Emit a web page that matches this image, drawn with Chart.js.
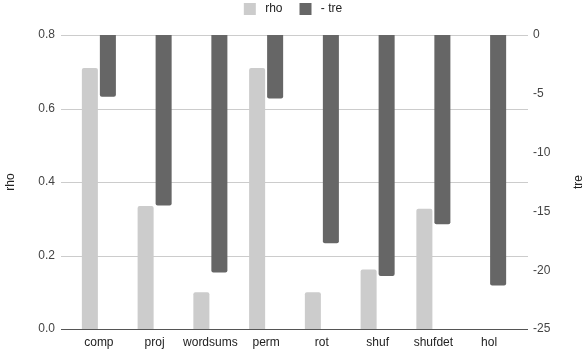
<!DOCTYPE html>
<html>
<head>
<meta charset="utf-8">
<script src="https://cdn.jsdelivr.net/npm/chart.js@4"></script>
<style>
  html, body { margin: 0; padding: 0; background: #fff; }
  #wrap { width: 586px; height: 350px; }
</style>
</head>
<body>
<div id="wrap"><canvas id="chart" width="586" height="350"></canvas></div>
<script>
// values
let categories = ['comp', 'proj', 'wordsums', 'perm', 'rot', 'shuf', 'shufdet', 'hol'];
let rhoValues = [0.71, 0.335, 0.1, 0.71, 0.1, 0.162, 0.327, 0];
let treValues = [-5.25, -14.5, -20.2, -5.4, -17.7, -20.5, -16.1, -21.3];
let rhoTicks = [0, 0.2, 0.4, 0.6, 0.8];
let treTicks = [0, -5, -10, -15, -20, -25];

const fontName = '"Liberation Sans", Arial, sans-serif';

// grid lines reach a bit past the bars on both sides, like the original
const gridPlugin = {
    id: 'gridLines',
    beforeLayout(chart) {
        // legend box takes a fixed 35px at the top
        const lg = chart.legend;
        if (lg && !lg._fixed) {
            const fit = lg.fit;
            lg.fit = function () { fit.call(this); this.height = 35; };
            lg._fixed = true;
        }
    },
    afterLayout(chart) {
        if (chart.legend) chart.legend.top = -14;
    },
    beforeDatasetsDraw(chart) {
        const ctx = chart.ctx;
        const y = chart.scales.y;
        const area = chart.chartArea;
        ctx.save();
        ctx.strokeStyle = '#cccccc';
        ctx.lineWidth = 1;
        for (let v of rhoTicks) {
            if (v === 0) continue;
            let py = Math.round(y.getPixelForValue(v)) + 0.5;
            ctx.beginPath();
            ctx.moveTo(area.left - 10, py);
            ctx.lineTo(area.right + 11, py);
            ctx.stroke();
        }
        ctx.restore();
    },
    afterDatasetsDraw(chart) {
        const ctx = chart.ctx;
        const y = chart.scales.y;
        const area = chart.chartArea;
        ctx.save();
        ctx.strokeStyle = '#555555';
        ctx.lineWidth = 1;
        let py = Math.round(y.getPixelForValue(0)) + 0.5;
        ctx.beginPath();
        ctx.moveTo(area.left - 10, py);
        ctx.lineTo(area.right + 11, py);
        ctx.stroke();
        // right axis title, reading bottom to top
        ctx.fillStyle = '#222';
        ctx.font = '12px ' + fontName;
        ctx.textAlign = 'center';
        ctx.textBaseline = 'middle';
        ctx.translate(579, (area.top + area.bottom) / 2);
        ctx.rotate(-Math.PI / 2);
        ctx.fillText('tre', 0, 0);
        ctx.restore();
    }
};

const ctx = document.getElementById('chart').getContext('2d');
const chart = new Chart(ctx, {
    type: 'bar',
    data: {
        labels: categories,
        datasets: [
            {
                label: 'rho',
                data: rhoValues,
                yAxisID: 'y',
                backgroundColor: '#cccccc',
                borderRadius: 2,
                borderSkipped: 'start',
                categoryPercentage: 0.646,
                barPercentage: 0.89
            },
            {
                label: '- tre',
                data: treValues,
                yAxisID: 'y1',
                backgroundColor: '#666666',
                borderRadius: 2,
                borderSkipped: 'start',
                categoryPercentage: 0.646,
                barPercentage: 0.89
            }
        ]
    },
    options: {
        responsive: false,
        animation: false,
        devicePixelRatio: 1,
        plugins: {
            legend: {
                position: 'top',
                labels: {
                    boxWidth: 12,
                    boxHeight: 12,
                    padding: 17,
                    color: '#222',
                    font: { family: fontName, size: 12 },
                    generateLabels(chart) {
                        let items = Chart.defaults.plugins.legend.labels.generateLabels(chart);
                        items.forEach(it => { it.text = ' ' + it.text; it.lineWidth = 0; });
                        return items;
                    }
                }
            },
            tooltip: { enabled: false }
        },
        scales: {
            x: {
                grid: { display: false, drawTicks: false },
                border: { display: false },
                ticks: {
                    color: '#222',
                    padding: 6,
                    maxRotation: 0,
                    autoSkip: false,
                    font: { family: fontName, size: 12 }
                },
                afterFit(scale) { scale.height = 21; }
            },
            y: {
                position: 'left',
                min: 0,
                max: 0.8,
                grid: { display: false, drawTicks: true, tickLength: 10 },
                border: { display: false },
                afterBuildTicks(scale) { scale.ticks = rhoTicks.map(v => ({ value: v })); },
                ticks: {
                    color: '#444',
                    padding: 6,
                    font: { family: fontName, size: 12 },
                    callback: v => Number(v).toFixed(1)
                },
                title: {
                    display: true,
                    text: 'rho',
                    color: '#222',
                    padding: { top: 3, bottom: 0 },
                    font: { family: fontName, size: 12 }
                },
                afterFit(scale) { scale.width = 71; }
            },
            y1: {
                position: 'right',
                min: -25,
                max: 0,
                grid: { display: false, drawTicks: true, tickLength: 10 },
                border: { display: false },
                afterBuildTicks(scale) { scale.ticks = treTicks.map(v => ({ value: v })); },
                ticks: {
                    color: '#444',
                    padding: 6,
                    font: { family: fontName, size: 12 }
                },
                afterFit(scale) { scale.width = 69; }
            }
        }
    },
    plugins: [gridPlugin]
});
</script>
</body>
</html>
